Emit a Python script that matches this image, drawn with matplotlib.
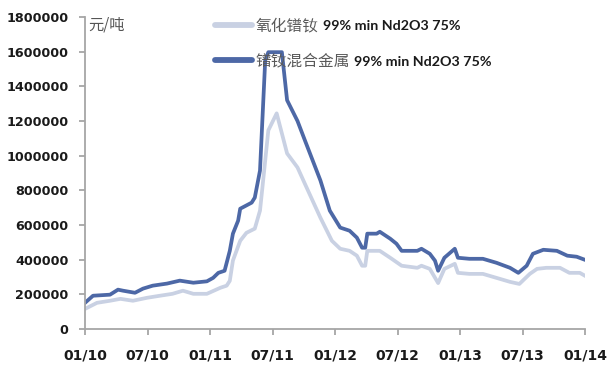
import matplotlib
matplotlib.use("Agg")
import matplotlib.pyplot as plt

plt.rcParams['font.family'] = ['DejaVu Sans', 'Noto Sans CJK SC']

# month offsets from Jan 2010
metal_x = [0, 0.77, 2.4, 3.17, 3.65, 4.8, 5.57, 6.5, 7.87, 9.1, 10.4, 11.7, 12.3, 12.8,
           13.4, 13.9, 14.2, 14.7, 14.9, 16.0, 16.3, 16.8, 17.3, 17.6, 18.9, 19.4, 20.4,
           21.1, 22.6, 23.5, 24.5, 25.4, 26.1, 26.6, 26.9, 27.1, 28.0, 28.3, 29.3, 29.9,
           30.4, 31.9, 32.3, 33.1, 33.6, 33.9, 34.5, 35.5, 35.8, 36.9, 38.2, 39.5, 40.8,
           41.6, 42.4, 43.0, 44.0, 45.3, 46.3, 47.2, 48.0]
metal_y = [151000, 192000, 198000, 227000, 221000, 209000, 233000, 250000, 262000, 279000,
           267000, 275000, 295000, 324000, 336000, 451000, 550000, 625000, 694000, 729000,
           758000, 914000, 1550000, 1597000, 1597000, 1320000, 1200000, 1090000, 857000,
           683000, 585000, 567000, 527000, 469000, 469000, 550000, 550000, 561000, 521000,
           492000, 451000, 451000, 463000, 434000, 394000, 336000, 411000, 463000, 411000,
           405000, 405000, 382000, 353000, 324000, 365000, 434000, 457000, 451000, 423000,
           417000, 399000]

oxide_x = [0, 1.15, 2.4, 3.4, 4.6, 5.95, 7.2, 8.4, 9.4, 10.4, 11.7, 13.0, 13.6, 13.9, 14.2,
           14.9, 15.5, 16.3, 16.8, 17.0, 17.6, 18.4, 19.4, 20.4, 21.1, 22.6, 23.7, 24.5,
           25.4, 26.1, 26.6, 26.9, 27.1, 28.3, 29.3, 30.4, 31.9, 32.3, 33.1, 33.9, 34.5,
           35.5, 35.8, 36.9, 38.2, 39.5, 40.8, 41.7, 42.7, 43.4, 44.3, 45.6, 46.5, 47.5, 48.0]
oxide_y = [116000, 151000, 163000, 174000, 163000, 180000, 192000, 203000, 221000, 203000,
           203000, 238000, 250000, 278000, 395000, 509000, 555000, 579000, 683000, 798000,
           1146000, 1244000, 1013000, 932000, 839000, 642000, 509000, 463000, 451000, 423000,
           365000, 365000, 451000, 451000, 411000, 365000, 353000, 365000, 347000, 265000,
           347000, 376000, 324000, 318000, 318000, 295000, 272000, 260000, 318000, 347000,
           353000, 353000, 324000, 324000, 307000]

tick_pos = [0, 6, 12, 18, 24, 30, 36, 42, 48]
tick_labels = ["01/10", "07/10", "01/11", "07/11", "01/12", "07/12", "01/13", "07/13", "01/14"]
y_ticks = [0, 200000, 400000, 600000, 800000, 1000000, 1200000, 1400000, 1600000, 1800000]

label_oxide_cn = "氧化镨钕"
label_metal_cn = "镨钕混合金属"
label_suffix = "99% min Nd2O3 75%"
unit = "元/吨"

W, H = 612, 370
fig = plt.figure(figsize=(W / 100, H / 100), dpi=100)
ax = fig.add_axes([85 / W, 41 / H, 500 / W, 312 / H])

l1, = ax.plot(oxide_x, oxide_y, color="#c9d1e3", lw=2.7, solid_joinstyle="round")
l2, = ax.plot(metal_x, metal_y, color="#4d68a6", lw=2.7, solid_joinstyle="round")

ax.set_xlim(0, 48)
ax.set_ylim(0, 1800000)
ax.set_xticks(tick_pos)
ax.set_xticklabels(tick_labels)
ax.set_yticks(y_ticks)
ax.set_yticklabels([str(v) for v in y_ticks])

for s in ["top", "right"]:
    ax.spines[s].set_visible(False)
for s in ["left", "bottom"]:
    ax.spines[s].set_color("#a6a6a6")
    ax.spines[s].set_linewidth(1.3)
ax.tick_params(axis="both", direction="out", color="#a6a6a6", length=4, width=1.3,
               labelcolor="#1a1a1a")
ax.tick_params(axis="x", pad=10, labelsize=10)
ax.tick_params(axis="y", pad=8, labelsize=9.2)
for t in ax.get_xticklabels() + ax.get_yticklabels():
    t.set_fontweight("bold")

ax.text(3 / 500, 1 - 8 / 312, unit, transform=ax.transAxes, fontsize=11,
        color="#555555", ha="left", va="center", family=["Noto Sans CJK SC"])

leg = fig.legend(handles=[l1, l2], labels=[label_oxide_cn, label_metal_cn],
                 loc="upper left", bbox_to_anchor=(215 / W, 1 - 17 / H),
                 frameon=False, handlelength=2.35, handletextpad=0.25,
                 labelspacing=1.2, borderaxespad=0, borderpad=0,
                 prop={"family": "Noto Sans CJK SC", "size": 11.3})
for line in leg.get_lines():
    line.set_linewidth(4.2)
    line.set_solid_capstyle("round")
for t in leg.get_texts():
    t.set_color("#5a5a5a")

fig.canvas.draw()
renderer = fig.canvas.get_renderer()
for t in leg.get_texts():
    bb = t.get_window_extent(renderer)
    fig.text((bb.x1 + 4) / W, (bb.y0 + bb.y1) / 2 / H - 0.5 / H, label_suffix,
             ha="left", va="center", fontsize=10.3, fontweight="bold",
             color="#1a1a1a", family=["Lato"])

fig.savefig("out.png", dpi=100)
